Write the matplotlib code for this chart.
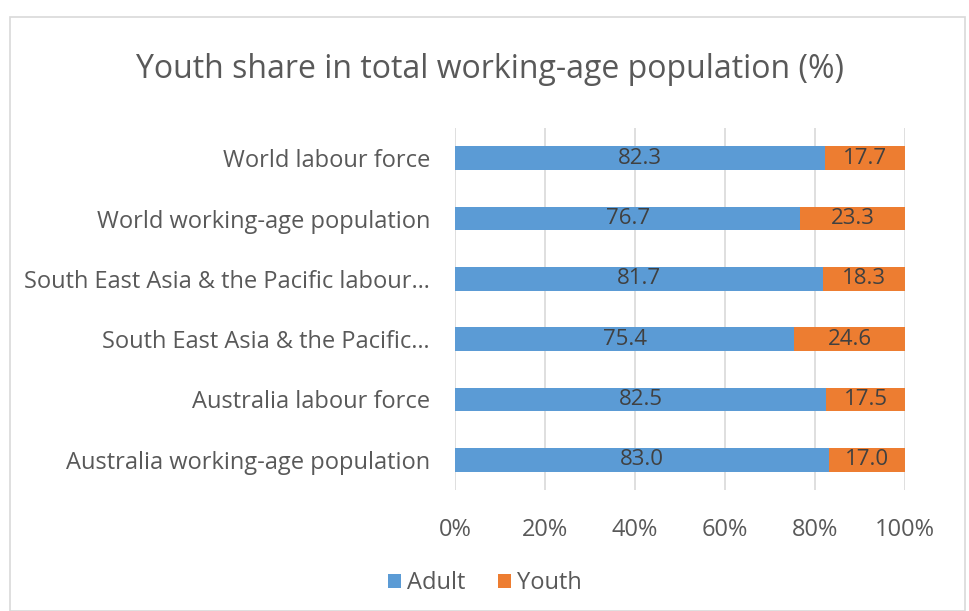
import matplotlib.pyplot as plt
from matplotlib.patches import Rectangle

plt.rcParams['font.family'] = ['Open Sans', 'DejaVu Sans']

categories = ["Australia working-age population", "Australia labour force",
              "South East Asia & the Pacific\u2026", "South East Asia & the Pacific labour\u2026",
              "World working-age population", "World labour force"]
adult = [83.0, 82.5, 75.4, 81.7, 76.7, 82.3]
youth = [17.0, 17.5, 24.6, 18.3, 23.3, 17.7]
xticks = [0, 20, 40, 60, 80, 100]

blue = "#5b9bd5"
orange = "#ed7d31"
txt = "#595959"
fs = 17

fig = plt.figure(figsize=(9.69, 6.11), dpi=100)
fig.patches.append(Rectangle((10 / 969, 0), 955 / 969, 1 - 17 / 611, transform=fig.transFigure,
                             fill=False, edgecolor="#d9d9d9", linewidth=1.2))
ax = fig.add_axes([455 / 969, 1 - 490 / 611, 450 / 969, 362 / 611])

y = range(len(categories))
b1 = ax.barh(y, adult, height=0.39, color=blue, label="Adult", zorder=3)
b2 = ax.barh(y, youth, left=adult, height=0.39, color=orange, label="Youth", zorder=3)
ax.bar_label(b1, labels=[f"{v:.1f}" for v in adult], label_type="center", color="#404040", fontsize=16)
ax.bar_label(b2, labels=[f"{v:.1f}" for v in youth], label_type="center", color="#404040", fontsize=16)

ax.set_xlim(0, 100)
ax.set_ylim(-0.5, 5.5)
ax.set_xticks(xticks)
ax.set_xticklabels([f"{v}%" for v in xticks])
ax.set_yticks(list(y))
ax.set_yticklabels(categories)
ax.tick_params(length=0, labelsize=fs, labelcolor=txt)
ax.tick_params(axis="y", pad=18)
ax.tick_params(axis="x", pad=20)
ax.grid(axis="x", color="#d9d9d9", linewidth=1.2, zorder=0)
for s in ax.spines.values():
    s.set_visible(False)

fig.text(490 / 969, 1 - 70 / 611, "Youth share in total working-age population (%)",
         ha="center", va="center", fontsize=23, color=txt)
fig.legend(loc="center", bbox_to_anchor=(485 / 969, 1 - 583 / 611), ncol=2, frameon=False,
           fontsize=fs, labelcolor=txt, handlelength=0.55, handleheight=0.55, handletextpad=0.25,
           columnspacing=1.4)

fig.savefig("out.png", dpi=100)
